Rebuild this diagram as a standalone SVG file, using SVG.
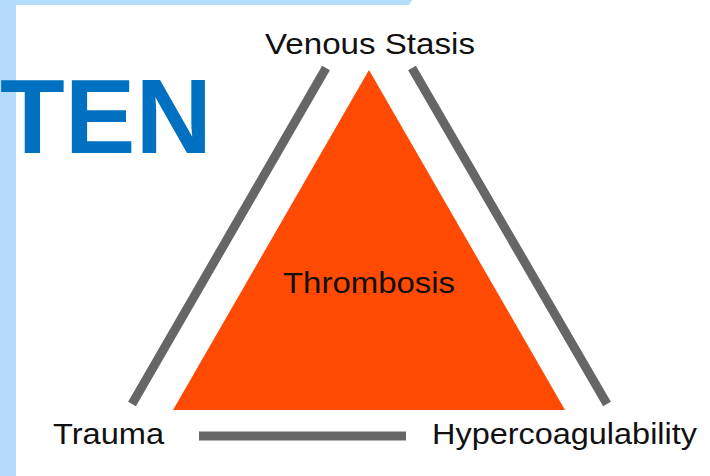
<svg xmlns="http://www.w3.org/2000/svg" width="710" height="476" viewBox="0 0 710 476">
<style>
.lbl{font-family:"Liberation Sans",Arial,sans-serif;font-size:30px;fill:#111}
.bar{stroke:#666;stroke-width:9;fill:none}
</style>
<rect width="710" height="476" fill="#fff"/>
<g id="background">
<rect x="0" y="0" width="16" height="476" fill="#b3dbfa"/>
<polygon points="0,0 412,0 409,5 0,5" fill="#b3dbfa"/>
</g>
<g id="title"><text x="0" y="153" font-family="'Liberation Sans',Arial,sans-serif" font-weight="bold" font-size="106" fill="#0070c0">TEN</text></g>
<g id="thrombosis">
<polygon points="369,70 173,410 565,410" fill="#fe4a03"/>
<text class="lbl" x="369" y="293" text-anchor="middle" textLength="172" lengthAdjust="spacingAndGlyphs">Thrombosis</text>
</g>
<g id="connectors">
<line class="bar" x1="132" y1="404" x2="326" y2="68"/>
<line class="bar" x1="412" y1="68" x2="607" y2="404"/>
<line class="bar" x1="199" y1="436" x2="406" y2="436" stroke-width="10"/>
</g>
<g id="venous-stasis"><text class="lbl" x="265" y="54" textLength="210" lengthAdjust="spacingAndGlyphs">Venous Stasis</text></g>
<g id="trauma"><text class="lbl" x="53" y="444" textLength="111" lengthAdjust="spacingAndGlyphs">Trauma</text></g>
<g id="hypercoagulability"><text class="lbl" x="432" y="444" textLength="265" lengthAdjust="spacingAndGlyphs">Hypercoagulability</text></g>
</svg>
